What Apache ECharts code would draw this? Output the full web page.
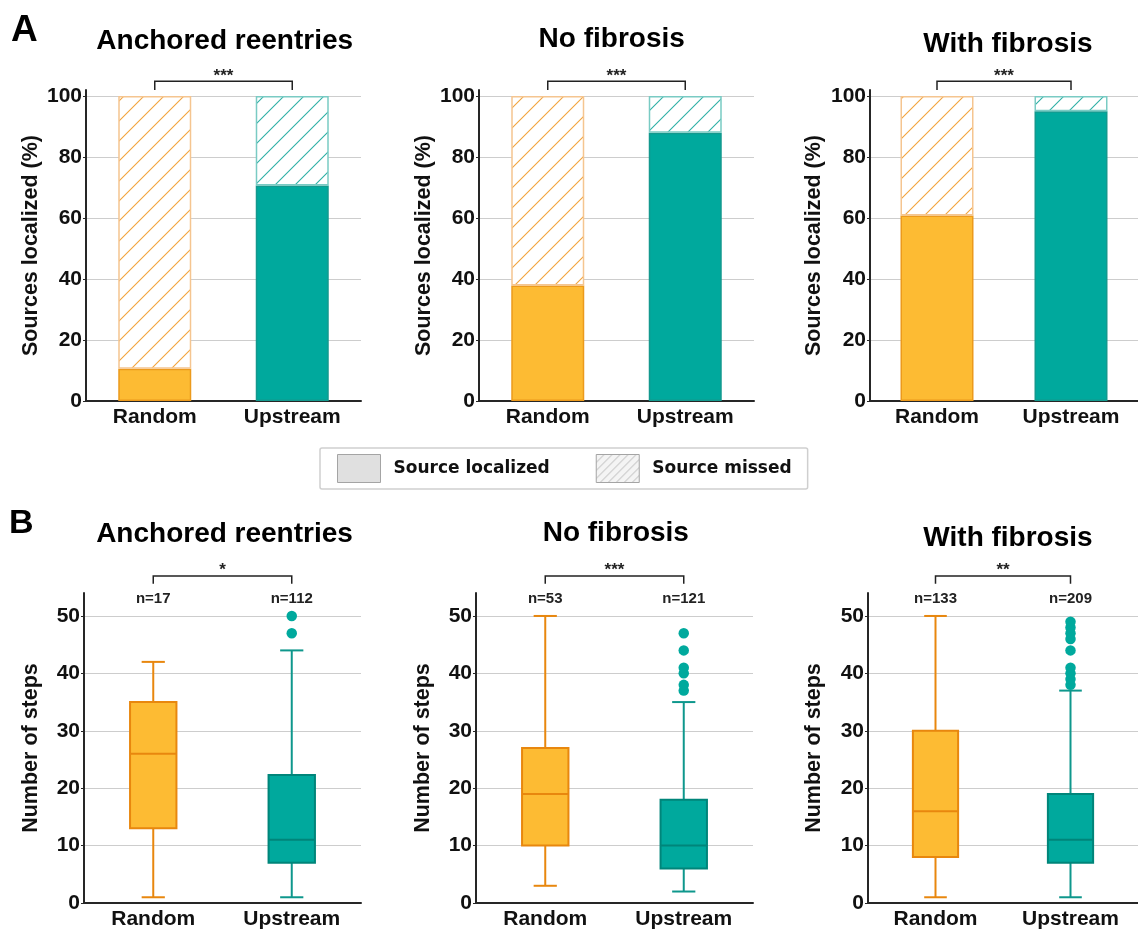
<!DOCTYPE html>
<html><head><meta charset="utf-8">
<script src="https://cdn.jsdelivr.net/npm/echarts@6/dist/echarts.min.js"></script>
<style>html,body{margin:0;padding:0;background:#fff}#c{width:1138px;height:930px}</style>
</head><body><div id="c"></div>
<script>
// ---------- data ----------
const categories = ['Random', 'Upstream'];
const panelTitles = ['Anchored reentries', 'No fibrosis', 'With fibrosis'];
const legendNames = ['Source localized', 'Source missed'];
// Row A: % of sources localized / missed
const locAnchored = [10.6, 70.7];
const locNoFib = [37.9, 88.0];
const locWithFib = [60.8, 95.0];
const missAnchored = [89.4, 29.3];
const missNoFib = [62.1, 12.0];
const missWithFib = [39.2, 5.0];
const sigTop = ['***', '***', '***'];
// Row B: number of steps  [min, Q1, median, Q3, max]
const boxAnchored = [[1, 13, 26, 35, 42], [1, 7, 11, 22.3, 44]];
const boxNoFib = [[3, 10, 19, 27, 50], [2, 6, 10, 18, 35]];
const boxWithFib = [[1, 8, 16, 30, 50], [1, 7, 11, 19, 37]];
const outAnchored = [[], [47, 50]];
const outNoFib = [[], [37, 38, 40, 41, 44, 47]];
const outWithFib = [[], [38, 39, 40, 41, 44, 46, 47, 48, 49]];
const nAnchored = [17, 112];
const nNoFib = [53, 121];
const nWithFib = [133, 209];
const sigBottom = ['*', '***', '**'];

// ---------- styles ----------
const FONT = 'Liberation Sans';
const fillCol = ['#FDBB33', '#00A99D'];
const fillBorder = ['#EC9A1C', '#13998E'];
const hatchLine = ['#F2A43C', '#2FB0A6'];
const hatchBorder = ['#F5C590', '#7ACBC4'];
const boxStroke = ['#E8870E', '#00857A'];
const whiskCol = ['#E8870E', '#0E978C'];
const AXIS = '#262626';

function hatch(lineColor, size, lw, bg) {
  const c = document.createElement('canvas');
  c.width = size; c.height = size;
  const g = c.getContext('2d');
  g.fillStyle = bg || '#ffffff'; g.fillRect(0, 0, size, size);
  g.strokeStyle = lineColor; g.lineWidth = lw;
  g.beginPath();
  g.moveTo(0, size); g.lineTo(size, 0);
  g.moveTo(-2, 2); g.lineTo(2, -2);
  g.moveTo(size - 2, size + 2); g.lineTo(size + 2, size - 2);
  g.stroke();
  return { image: c, repeat: 'repeat' };
}

const topLoc = [locAnchored, locNoFib, locWithFib];
const topMiss = [missAnchored, missNoFib, missWithFib];
const botBox = [boxAnchored, boxNoFib, boxWithFib];
const botOut = [outAnchored, outNoFib, outWithFib];
const botN = [nAnchored, nNoFib, nWithFib];

const topLeft = [86, 479, 870];
const botLeft = [84, 476, 868];
const nameGapTop = [44, 44, 45];
const nameGapBot = [42, 42, 43];

const grids = [], xAxes = [], yAxes = [], series = [], titles = [];

function xAxisCfg(gi) {
  return {
    type: 'category', gridIndex: gi, data: categories,
    axisLine: { lineStyle: { color: AXIS, width: 2 } },
    axisTick: { show: false },
    axisLabel: { fontFamily: FONT, fontWeight: 'bold', fontSize: 21, color: '#111', margin: 6 },
    splitLine: { show: false }
  };
}
function yAxisCfg(gi, max, interval, name, gap) {
  return {
    type: 'value', gridIndex: gi, min: 0, max: max, interval: interval,
    axisLine: { show: true, lineStyle: { color: AXIS, width: 2 } },
    axisTick: { show: true, length: 3, lineStyle: { color: AXIS, width: 1 } },
    axisLabel: { fontFamily: FONT, fontWeight: 'bold', fontSize: 21, color: '#111', margin: 4, showMaxLabel: false },
    splitLine: { show: true, showMinLine: false, showMaxLine: false, lineStyle: { color: '#cdcdcd', width: 1 } },
    name: name, nameLocation: 'middle', nameGap: gap, nameRotate: 90,
    nameTextStyle: { fontFamily: FONT, fontWeight: 'bold', fontSize: 21.5, color: '#111' }
  };
}

function annotSeries(gi, sig, lineV, tickV, starV, ns, nV) {
  return {
    type: 'custom', xAxisIndex: gi, yAxisIndex: gi, silent: true, clip: false, z: 10,
    data: [[0, lineV]],
    renderItem: function (params, api) {
      const a = api.coord([0, lineV]), b = api.coord([1, lineV]);
      const t = api.coord([0, tickV]);
      const s = api.coord([0, starV]);
      const children = [
        { type: 'polyline', shape: { points: [[a[0], t[1]], [a[0], a[1]], [b[0], a[1]], [b[0], t[1]]] },
          style: { stroke: '#222', lineWidth: 1.5, fill: null } },
        { type: 'text', style: { text: sig, x: (a[0] + b[0]) / 2, y: s[1], align: 'center', verticalAlign: 'middle',
          fontFamily: FONT, fontWeight: 'bold', fontSize: 17, fill: '#222' } }
      ];
      if (ns) {
        ns.forEach(function (n, j) {
          const p = api.coord([j, nV]);
          children.push({ type: 'text', style: { text: 'n=' + n, x: p[0], y: p[1], align: 'center', verticalAlign: 'middle',
            fontFamily: FONT, fontWeight: 'bold', fontSize: 15, fill: '#222' } });
        });
      }
      return { type: 'group', children: children };
    }
  };
}

// ----- Row A -----
for (let i = 0; i < 3; i++) {
  grids.push({ left: topLeft[i], top: 90, width: 275, height: 311 });
  xAxes.push(xAxisCfg(i));
  yAxes.push(yAxisCfg(i, 102, 20, 'Sources localized (%)', nameGapTop[i]));
  series.push({
    type: 'bar', name: legendNames[0], xAxisIndex: i, yAxisIndex: i, stack: 'p' + i, barWidth: 73,
    itemStyle: { color: '#e0e0e0', borderColor: '#a4a4a4', borderWidth: 1 },
    data: topLoc[i].map(function (v, j) {
      return { value: v, itemStyle: { color: fillCol[j], borderColor: fillBorder[j], borderWidth: 1.5 } };
    })
  });
  series.push({
    type: 'bar', name: legendNames[1], xAxisIndex: i, yAxisIndex: i, stack: 'p' + i, barWidth: 73,
    itemStyle: { color: hatch('#b8b8b8', 8, 1, '#f4f4f4'), borderColor: '#a4a4a4', borderWidth: 1 },
    data: topMiss[i].map(function (v, j) {
      return { value: v, itemStyle: { color: hatch(hatchLine[j], 20, 1.1), borderColor: hatchBorder[j], borderWidth: 1.5 } };
    })
  });
  series.push(annotSeries(i, sigTop[i], 104.9, 102, 106.5, null, 0));
}

// ----- Row B -----
for (let i = 0; i < 3; i++) {
  const gi = 3 + i;
  grids.push({ left: botLeft[i], top: 593, width: 277, height: 310 });
  xAxes.push(xAxisCfg(gi));
  yAxes.push(yAxisCfg(gi, 54, 10, 'Number of steps', nameGapBot[i]));
  series.push({
    type: 'custom', xAxisIndex: gi, yAxisIndex: gi, silent: true,
    encode: { x: 0, y: [1, 2, 3, 4, 5] },
    data: botBox[i].map(function (b, j) { return [j].concat(b); }),
    renderItem: function (params, api) {
      const j = api.value(0);
      const low = api.coord([j, api.value(1)]);
      const q1 = api.coord([j, api.value(2)]);
      const med = api.coord([j, api.value(3)]);
      const q3 = api.coord([j, api.value(4)]);
      const high = api.coord([j, api.value(5)]);
      const x = med[0];
      const w = api.size([1, 0])[0] * 0.335;
      const cw = w / 2;
      const ws = { stroke: whiskCol[j], lineWidth: 2 };
      return {
        type: 'group', children: [
          { type: 'line', shape: { x1: x, y1: low[1], x2: x, y2: q1[1] }, style: ws },
          { type: 'line', shape: { x1: x, y1: q3[1], x2: x, y2: high[1] }, style: ws },
          { type: 'line', shape: { x1: x - cw / 2, y1: low[1], x2: x + cw / 2, y2: low[1] }, style: ws },
          { type: 'line', shape: { x1: x - cw / 2, y1: high[1], x2: x + cw / 2, y2: high[1] }, style: ws },
          { type: 'rect', shape: { x: x - w / 2, y: q3[1], width: w, height: q1[1] - q3[1] },
            style: { fill: fillCol[j], stroke: boxStroke[j], lineWidth: 2 } },
          { type: 'line', shape: { x1: x - w / 2, y1: med[1], x2: x + w / 2, y2: med[1] },
            style: { stroke: boxStroke[j], lineWidth: 2 } }
        ]
      };
    }
  });
  const pts = [];
  botOut[i].forEach(function (arr, j) { arr.forEach(function (v) { pts.push([j, v]); }); });
  series.push({
    type: 'scatter', xAxisIndex: gi, yAxisIndex: gi, silent: true, symbol: 'circle', symbolSize: 10.5,
    itemStyle: { color: '#00A99D', opacity: 1 }, data: pts, z: 5
  });
  series.push(annotSeries(gi, sigBottom[i], 56.95, 55.6, 58.0, botN[i], 53.0));
}

// ----- titles -----
const titleX = [224.7, 611.7, 1008];
const titleXB = [224.5, 615.8, 1008];
const titleTopA = [27, 25, 30];
const titleTopB = [520, 519, 524];
titles.push({ text: 'A', left: 11, top: 12, padding: 0, textStyle: { fontFamily: FONT, fontWeight: 'bold', fontSize: 37, color: '#000' } });
titles.push({ text: 'B', left: 9, top: 507, padding: 0, textStyle: { fontFamily: FONT, fontWeight: 'bold', fontSize: 34, color: '#000' } });
for (let i = 0; i < 3; i++) {
  titles.push({ text: panelTitles[i], left: titleX[i], top: titleTopA[i], textAlign: 'center', padding: 0,
    textStyle: { fontFamily: FONT, fontWeight: 'bold', fontSize: 28, color: '#000' } });
  titles.push({ text: panelTitles[i], left: titleXB[i], top: titleTopB[i], textAlign: 'center', padding: 0,
    textStyle: { fontFamily: FONT, fontWeight: 'bold', fontSize: 28, color: '#000' } });
}

const chart = echarts.init(document.getElementById('c'), null, { renderer: 'canvas' });
chart.setOption({
  animation: false,
  backgroundColor: '#ffffff',
  title: titles,
  grid: grids,
  xAxis: xAxes,
  yAxis: yAxes,
  legend: {
    data: legendNames, left: 320, top: 448, orient: 'horizontal', selectedMode: false,
    itemWidth: 43, itemHeight: 28, itemGap: 46, padding: [6, 16, 6, 17],
    borderColor: '#cfcfcf', borderWidth: 1.5, borderRadius: 2, icon: 'rect',
    itemStyle: { borderColor: '#a4a4a4', borderWidth: 1 },
    textStyle: { fontFamily: 'DejaVu Sans', fontWeight: 'bold', fontSize: 17, color: '#111', padding: [0, 0, 0, 8] }
  },
  series: series
});
</script>
</body></html>
